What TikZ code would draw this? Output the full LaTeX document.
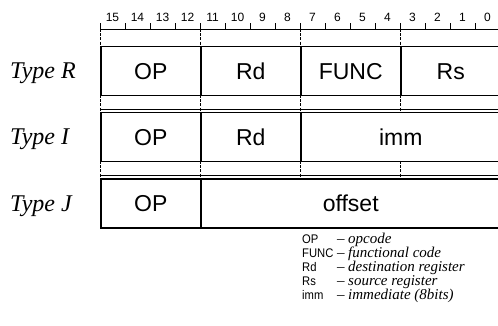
\documentclass[tikz,border=0pt]{standalone}
\usepackage{fontspec}
\setmainfont{Liberation Serif}
\setsansfont{Liberation Sans}
\newfontfamily\legsans[FakeStretch=0.9]{Liberation Sans}
\begin{document}
\begin{tikzpicture}[x=1pt,y=-1pt,
  cell/.style={draw, line width=1.5pt, minimum height=49pt, inner sep=0pt, anchor=north west,
    text height=16.5pt, text depth=0pt, font=\sffamily\fontsize{23}{23}\selectfont},
  guide/.style={line width=0.6pt, dash pattern=on 3pt off 1.2pt},
  thin/.style={line width=0.6pt},
  typelab/.style={anchor=base west, inner sep=0pt, font=\rmfamily\itshape\fontsize{24}{24}\selectfont},
  bitnum/.style={inner sep=0pt, font=\sffamily\fontsize{12}{12}\selectfont},
  legkey/.style={anchor=base west, inner sep=0pt, font=\legsans\fontsize{12.5}{12.5}\selectfont},
  legval/.style={anchor=base west, inner sep=0pt, font=\rmfamily\fontsize{15}{15}\selectfont}]
\useasboundingbox (0,0) rectangle (498,326);

% ruler
\coordinate (rl) at (100,29);
\coordinate (rr) at (500,29);
\draw[thin] (rl) -- (rr);
\foreach \i in {0,...,16} { \draw[thin] (100+25*\i,29) -- (100+25*\i,23); }
\foreach \i in {0,...,15} {
  \pgfmathtruncatemacro{\b}{15-\i}
  \node[bitnum] (b\b) at (112.5+25*\i,17.5) {\b};
}

% rows
\node[cell, minimum width=100pt] (r1) at (100,46) {OP};
\node[cell, minimum width=100pt] (r2) at (200,46) {Rd};
\node[cell, minimum width=100pt] (r3) at (300,46) {FUNC};
\node[cell, minimum width=100pt] (r4) at (400,46) {Rs};

\node[cell, minimum width=100pt] (i1) at (100,112) {OP};
\node[cell, minimum width=100pt] (i2) at (200,112) {Rd};
\node[cell, minimum width=200pt] (i3) at (300,112) {imm};

\node[cell, minimum width=100pt] (j1) at (100,178) {OP};
\node[cell, minimum width=300pt] (j2) at (200,178) {offset};

% thin guide lines above rows I and J
\draw[thin] (100,109) -- (500,109);
\draw[thin] (100,175) -- (500,175);

% dashed field boundaries
\foreach \x in {100,200,300,400} {
  \draw[guide] (\x,29) -- (\x,46);
  \draw[guide] (\x,95) -- (\x,112);
  \draw[guide] (\x,161) -- (\x,178);
}

% type labels
\node[typelab] (tR) at (10,79) {Type R};
\node[typelab] (tI) at (10,145) {Type I};
\node[typelab] (tJ) at (10,211) {Type J};

% legend
\node[legkey] (k1) at (302,243) {OP};
\node[legkey] (k2) at (302,257) {FUNC};
\node[legkey] (k3) at (302,271) {Rd};
\node[legkey] (k4) at (302,285) {Rs};
\node[legkey] (k5) at (302,299) {imm};
\foreach \n/\y in {1/243,2/257,3/271,4/285,5/299} {
  \node[legval] (d\n) at (337,\y) {–};
}
\node[legval] (v1) at (348,243) {\textit{opcode}};
\node[legval] (v2) at (348,257) {\textit{functional code}};
\node[legval] (v3) at (348,271) {\textit{destination register}};
\node[legval] (v4) at (348,285) {\textit{source register}};
\node[legval] (v5) at (348,299) {\textit{immediate (8bits)}};
\end{tikzpicture}
\end{document}
